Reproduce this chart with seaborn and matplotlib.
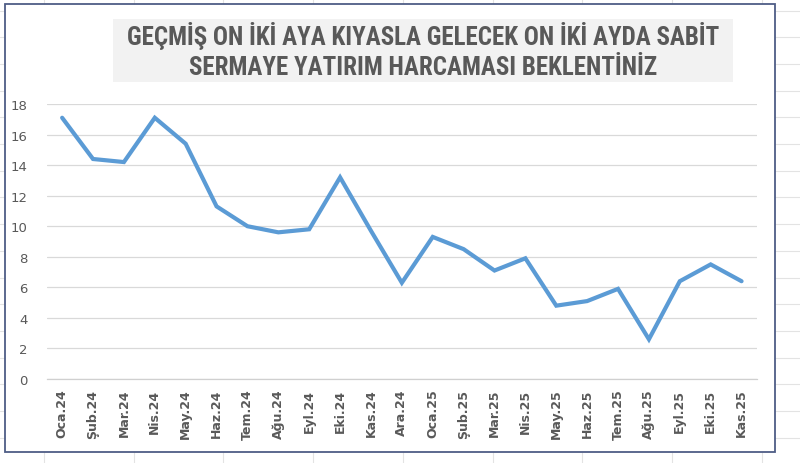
import matplotlib
matplotlib.use("Agg")
import matplotlib.pyplot as plt
from matplotlib.patches import Rectangle
from matplotlib.lines import Line2D
import seaborn as sns
import pandas as pd
import numpy as np

months = ["Oca.24", "Şub.24", "Mar.24", "Nis.24", "May.24", "Haz.24", "Tem.24",
          "Ağu.24", "Eyl.24", "Eki.24", "Kas.24", "Ara.24", "Oca.25", "Şub.25",
          "Mar.25", "Nis.25", "May.25", "Haz.25", "Tem.25", "Ağu.25", "Eyl.25",
          "Eki.25", "Kas.25"]
values = [17.1, 14.4, 14.2, 17.1, 15.4, 11.3, 10.0, 9.6, 9.8, 13.2, 9.7, 6.3,
          9.3, 8.5, 7.1, 7.9, 4.8, 5.1, 5.9, 2.6, 6.4, 7.5, 6.4]
yticks = [0, 2, 4, 6, 8, 10, 12, 14, 16, 18]
title_lines = ["GEÇMİŞ ON İKİ AYA KIYASLA GELECEK ON İKİ AYDA SABİT",
               "SERMAYE YATIRIM HARCAMASI BEKLENTİNİZ"]

sns.set_theme(style="white")
plt.rcParams['font.family'] = ['DejaVu Sans']

W, H = 800, 464
fig = plt.figure(figsize=(8, 4.64), dpi=100)

# spreadsheet background grid
for x in np.arange(44, 800, 89.7):
    fig.add_artist(Line2D([x / W, x / W], [0, 1], color="#e3e3e3", lw=0.8, zorder=0))
for y in np.arange(11.5, 464, 26.7):
    fig.add_artist(Line2D([0, 1], [1 - y / H, 1 - y / H], color="#e3e3e3", lw=0.8, zorder=0))

# chart area
fig.add_artist(Rectangle((5 / W, 1 - 453 / H), 770 / W, 448 / H, transform=fig.transFigure,
                         facecolor="white", edgecolor="#4e5d86", lw=1.3, zorder=1))
# title box
fig.add_artist(Rectangle((113 / W, 1 - 83 / H), 620 / W, 63 / H, transform=fig.transFigure,
                         facecolor="#f2f2f2", edgecolor="none", zorder=2))
title_font = ['Roboto Condensed', 'Liberation Sans Narrow', 'Lato', 'DejaVu Sans']
fig.text(423 / W, 1 - 36 / H, title_lines[0], ha="center", va="center", fontsize=18,
         fontweight="bold", color="#595959", family=title_font, zorder=3)
fig.text(423 / W, 1 - 68 / H, title_lines[1], ha="center", va="center", fontsize=18,
         fontweight="bold", color="#595959", family=title_font, zorder=3)

ax = fig.add_axes([46.7 / W, 1 - 380 / H, (757 - 46.7) / W, (380 - 105) / H], zorder=4)
ax.patch.set_alpha(0)

df = pd.DataFrame({"Ay": months, "Değer": values})
sns.lineplot(data=df, x="Ay", y="Değer", sort=False, color="#5b9bd5", lw=3.0, ax=ax,
             clip_on=False, solid_capstyle="round", solid_joinstyle="miter")

ax.set_xlim(-0.5, len(months) - 0.5)
ax.set_ylim(0, 18)
ax.set_yticks(yticks)
ax.set_yticklabels([str(t) for t in yticks], fontsize=9.5, color="#595959")
ax.set_xticks(range(len(months)))
ax.set_xticklabels(months, rotation=90, fontsize=9, color="#595959", fontweight="bold")
ax.set_xticks(np.arange(-0.5, len(months), 1), minor=True)
ax.tick_params(axis="x", which="major", length=0, pad=7)
ax.tick_params(axis="x", which="minor", length=5, color="#d0d0d0", width=0.8, direction="out")
ax.tick_params(axis="y", length=0, pad=14)
ax.set_xlabel("")
ax.set_ylabel("")
ax.grid(axis="y", color="#d9d9d9", lw=0.9)
ax.set_axisbelow(True)
for s in ["top", "right", "left"]:
    ax.spines[s].set_visible(False)
ax.spines["bottom"].set_color("#d0d0d0")
ax.spines["bottom"].set_linewidth(0.9)

fig.savefig("out.png", dpi=100)
